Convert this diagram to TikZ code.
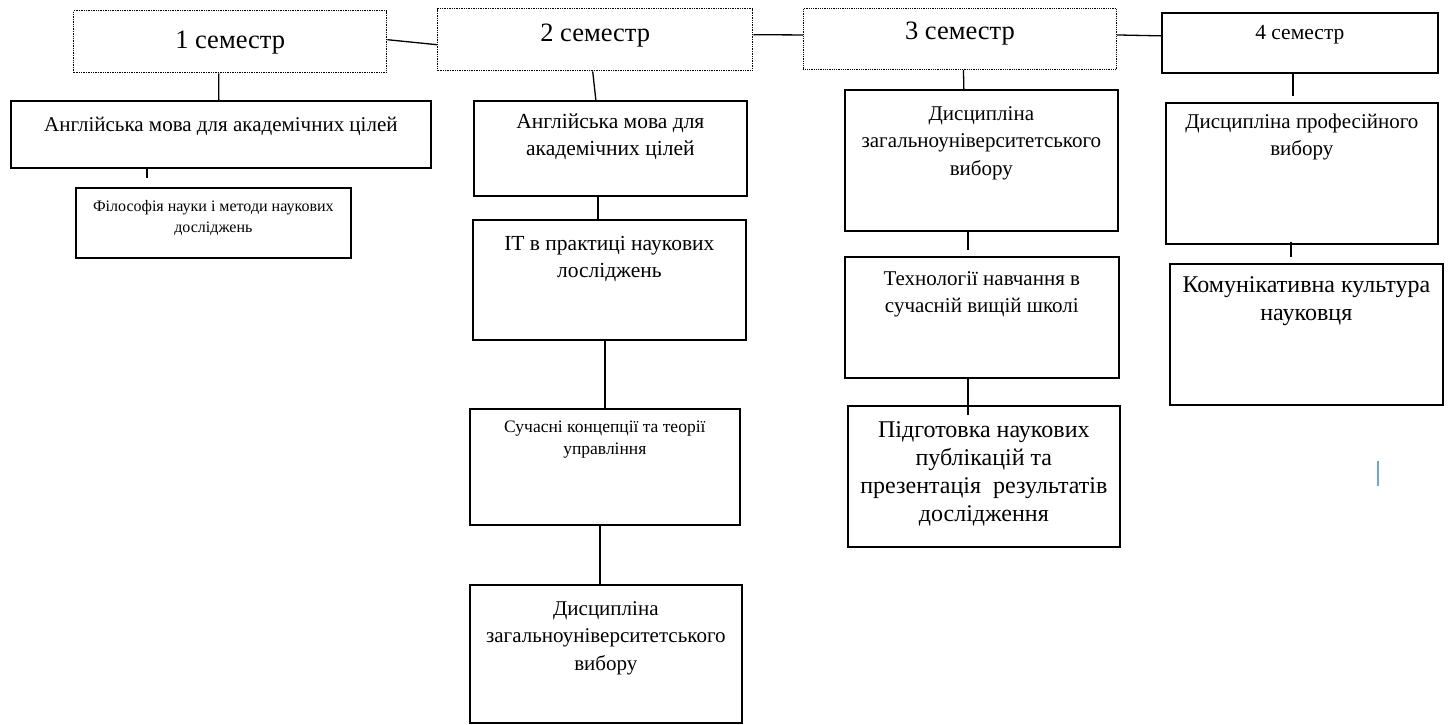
\documentclass[tikz,border=0pt]{standalone}
\usepackage{fontspec}
\setmainfont{Liberation Serif}
\definecolor{cursorblue}{RGB}{110,165,225}
\newcommand{\fsz}[2]{\fontsize{#1}{#2}\selectfont}
\tikzset{
  subj/.style={draw, line width=1.7pt, inner sep=0pt, anchor=north west},
  sem/.style={subj, line width=1.4pt, dash pattern=on 1.4pt off 1pt},
  semfine/.style={subj, line width=0.9pt, dash pattern=on 0.9pt off 0.9pt},
  txt/.style={anchor=north, inner sep=0pt, align=center},
  link/.style={line width=1.3pt},
}
\begin{document}
\begin{tikzpicture}[x=1pt,y=-1pt]
\useasboundingbox (0,0) rectangle (1448,724);

\node[sem, minimum width=313pt, minimum height=62pt,
  label={[txt,yshift=-21pt,font=\fsz{26.5}{30}]north:{1 семестр}}] (s1) at (73,10) {};
\node[sem, minimum width=315pt, minimum height=62pt,
  label={[txt,yshift=-16pt,font=\fsz{26.5}{30}]north:{2 семестр}}] (s2) at (437,8) {};
\node[semfine, minimum width=313pt, minimum height=61pt,
  label={[txt,yshift=-14pt,font=\fsz{26.5}{30}]north:{3 семестр}}] (s3) at (803,8) {};
\node[subj, minimum width=276pt, minimum height=60pt,
  label={[txt,yshift=-13pt,font=\fsz{21.5}{25}]north:{4 семестр}}] (s4) at (1161,12) {};

\node[subj, minimum width=420pt, minimum height=67pt,
  label={[txt,yshift=-17pt,font=\fsz{21}{27}]north:{Англійська мова для академічних цілей}}] (a1) at (10,100) {};
\node[subj, minimum width=275pt, minimum height=70pt,
  label={[txt,yshift=-13pt,font=\fsz{16}{21}]north:{Філософія науки і методи наукових\\досліджень}}] (a2) at (75,187) {};

\node[subj, minimum width=273pt, minimum height=95pt,
  label={[txt,yshift=-14pt,font=\fsz{21.5}{27}]north:{Англійська мова для\\академічних цілей}}] (b1) at (473,100) {};
\node[subj, minimum width=273pt, minimum height=120pt,
  label={[txt,yshift=-17pt,font=\fsz{21.5}{27}]north:{IT в практиці наукових\\лосліджень}}] (b2) at (472,219) {};
\node[subj, minimum width=270pt, minimum height=116pt,
  label={[txt,yshift=-13pt,font=\fsz{17.5}{22}]north:{Сучасні концепції та теорії\\управління}}] (b3) at (469,408) {};
\node[subj, minimum width=272pt, minimum height=138pt,
  label={[txt,yshift=-17pt,font=\fsz{21}{27.5}]north:{Дисципліна\\загальноуніверситетського\\вибору}}] (b4) at (469,584) {};

\node[subj, minimum width=273pt, minimum height=141pt,
  label={[txt,yshift=-17pt,font=\fsz{21}{27.5}]north:{Дисципліна\\загальноуніверситетського\\вибору}}] (c1) at (844,89) {};
\node[subj, minimum width=274pt, minimum height=121pt,
  label={[txt,yshift=-15pt,font=\fsz{21}{27}]north:{Технології навчання в\\сучасній вищій школі}}] (c2) at (844,256) {};
\node[subj, minimum width=272pt, minimum height=141pt,
  label={[txt,yshift=-16pt,font=\fsz{24}{28}]north:{Підготовка наукових\\публікацій та\\презентація\ \ результатів\\дослідження}}] (c3) at (847,405) {};

\node[subj, minimum width=272pt, minimum height=141pt,
  label={[txt,yshift=-12pt,font=\fsz{21}{27}]north:{Дисципліна професійного\\вибору}}] (d1) at (1165,102) {};
\node[subj, minimum width=273pt, minimum height=141pt,
  label={[txt,yshift=-13pt,font=\fsz{24}{28}]north:{Комунікативна культура\\науковця}}] (d2) at (1169,263) {};

\draw[link] ([yshift=2pt]s1.east) -- ([yshift=-5pt]s2.west);
\draw[link] ([yshift=5pt]s2.east) -- ([yshift=4pt]s3.west);
\draw[link] ([yshift=4pt]s3.east) -- ([yshift=7pt]s4.west);

\draw[link] ([xshift=-11.5pt]s1.south) -- ([xshift=-2pt]a1.north);
\draw[link] ([xshift=-74pt]a1.south) -- ++(0,9);

\draw[link] ([xshift=-2.5pt]s2.south) -- ([xshift=-14.5pt]b1.north);
\draw[link] ([xshift=-12.5pt]b1.south) -- ([xshift=-11.5pt]b2.north);
\draw[link] ([xshift=-4.5pt]b2.south) -- (b3.north);
\draw[link] ([xshift=-5pt]b3.south) -- ([xshift=-6pt]b4.north);

\draw[link] ([xshift=3.5pt]s3.south) -- ([xshift=-17.5pt]c1.north);
\draw[link] ([xshift=-13.5pt]c1.south) -- ++(0,18);
\draw[link] ([xshift=-14pt]c2.south) -- ++(0,36);

\draw[link] ([xshift=-7pt]s4.south) -- ++(0,22);
\draw[link] ([xshift=-11pt,yshift=3pt]d1.south) -- ++(0,15);

\draw[cursorblue, line width=2pt] (1378,461) -- (1378,486);
\end{tikzpicture}
\end{document}
